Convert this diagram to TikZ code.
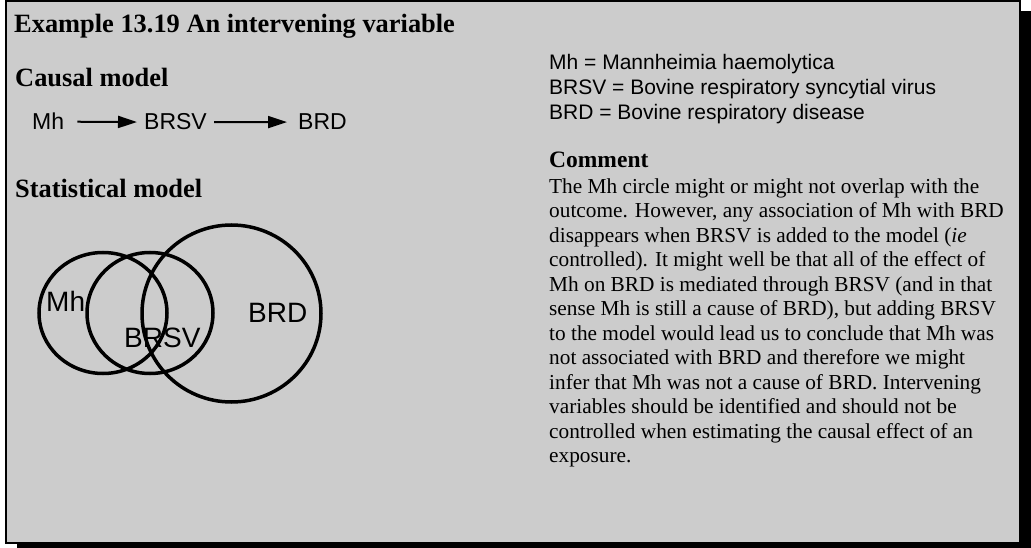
\documentclass[tikz,border=0pt]{standalone}
\usepackage{fontspec}
\setmainfont{Liberation Serif}
\setsansfont{Liberation Sans}
\usepackage{tikz}
\usetikzlibrary{arrows.meta}

\definecolor{boxgray}{gray}{0.8}

\tikzset{
  heading/.style={anchor=base west, inner sep=0pt, font=\fontsize{26.4}{30}\selectfont\bfseries},
  causal/.style={anchor=base west, inner sep=0pt, font=\sffamily\fontsize{23}{27}\selectfont},
  causearrow/.style={line width=2pt, -{Triangle[length=19pt,width=12pt]}},
  venn/.style={line width=3.5pt},
  vennlabel/.style={anchor=base west, inner sep=0pt, font=\sffamily\fontsize{28}{32}\selectfont},
}

\begin{document}
\begin{tikzpicture}[x=1pt,y=-1pt]
    \useasboundingbox (0,0) rectangle (1031,548);
    % shadow and frame
    \fill (17,11) rectangle (1031,548);
    \draw[line width=2pt, fill=boxgray] (6,1) rectangle (1020,543);

    \node[heading] (title) at (14,33) {Example 13.19 An intervening variable};
    \node[heading] (causalhead) at (15,87) {Causal model};
    \node[heading] (stathead) at (15,198) {Statistical model};

    % causal chain
    \node[causal] (mh) at (32,130) {Mh};
    \node[causal] (brsv) at (144,130) {BRSV};
    \node[causal] (brd) at (298,130) {BRD};
    \draw[causearrow, shorten <=13pt, shorten >=7pt] (mh.east) -- (brsv.west);
    \draw[causearrow, shorten <=7pt, shorten >=11pt] (brsv.east) -- (brd.west);

    % statistical model
    \draw[venn] (103,313) ellipse [x radius=64pt, y radius=60.5pt];
    \draw[venn] (150,313) ellipse [x radius=63pt, y radius=60.5pt];
    \draw[venn] (231.5,313.5) ellipse [x radius=89.5pt, y radius=88.5pt];
    \node[vennlabel] (mhlabel) at (46,311) {Mh};
    \node[vennlabel] (brsvlabel) at (124,347) {BRSV};
    \node[vennlabel] (brdlabel) at (248,322) {BRD};

    % legend and comment
    \node[anchor=north west, inner sep=0pt, align=left,
          font=\sffamily\fontsize{21}{25}\selectfont] (legend) at (549,53.7)
        {Mh = Mannheimia haemolytica\\
         BRSV = Bovine respiratory syncytial virus\\
         BRD = Bovine respiratory disease};
    \node[anchor=base west, inner sep=0pt, font=\fontsize{23.5}{27}\selectfont\bfseries]
        (commenthead) at (549,168) {Comment};
    \node[anchor=north west, inner sep=0pt, align=left,
          font=\fontsize{21.3}{24.5}\selectfont] (comment) at (549,178.4)
        {The Mh circle might or might not overlap with the\\
         outcome. However, any association of Mh with BRD\\
         disappears when BRSV is added to the model (\textit{ie}\\
         controlled). It might well be that all of the effect of\\
         Mh on BRD is mediated through BRSV (and in that\\
         sense Mh is still a cause of BRD), but adding BRSV\\
         to the model would lead us to conclude that Mh was\\
         not associated with BRD and therefore we might\\
         infer that Mh was not a cause of BRD. Intervening\\
         variables should be identified and should not be\\
         controlled when estimating the causal effect of an\\
         exposure.};
\end{tikzpicture}
\end{document}
